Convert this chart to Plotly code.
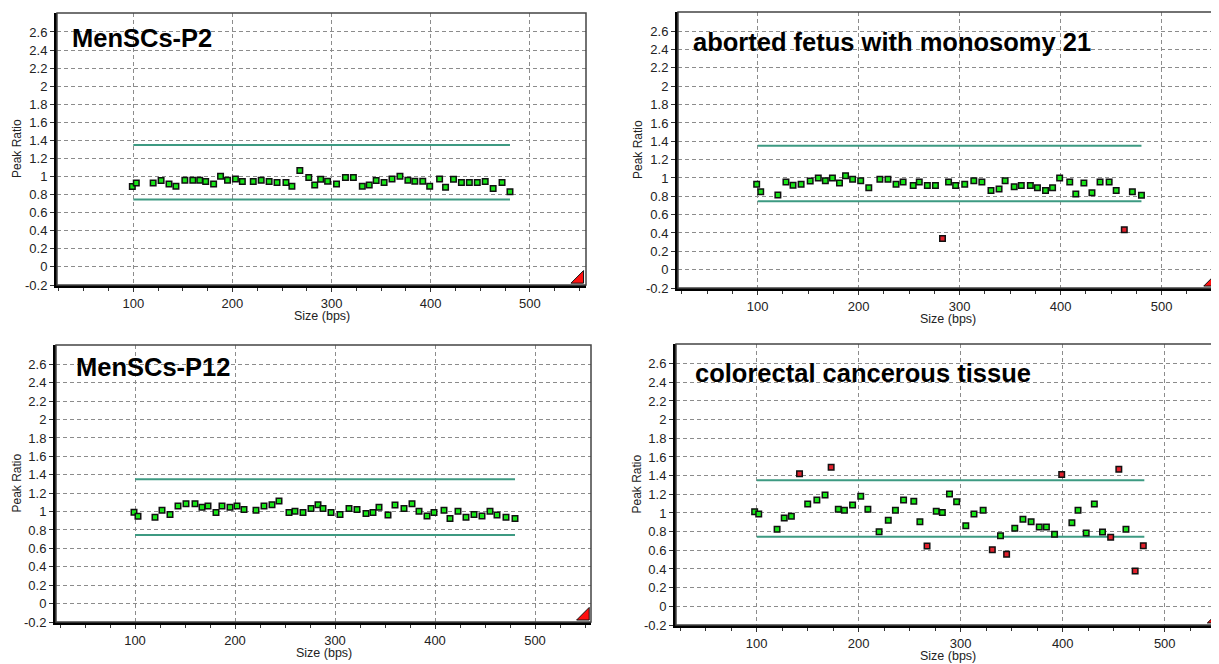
import plotly.graph_objects as go

# ---------------- data ----------------
x_tick_vals = [100, 200, 300, 400, 500]
x_tick_text = ["100", "200", "300", "400", "500"]
y_tick_vals = [-0.2, 0, 0.2, 0.4, 0.6, 0.8, 1.0, 1.2, 1.4, 1.6, 1.8, 2.0, 2.2, 2.4, 2.6]
y_tick_text = ["-0.2", "0", "0.2", "0.4", "0.6", "0.8", "1", "1.2", "1.4", "1.6", "1.8", "2", "2.2", "2.4", "2.6"]

upper_limit = 1.35
lower_limit = 0.745
limit_x = [100, 480]

panel_titles = ["MenSCs-P2", "aborted fetus with monosomy 21", "MenSCs-P12", "colorectal cancerous tissue"]
x_title = "Size (bps)"
y_title = "Peak Ratio"

sizes_p2 = [99, 103, 120, 128, 136, 143, 152, 160, 167, 173, 181, 188, 195, 203, 210, 221, 229, 237, 245,
            254, 260, 268, 277, 283, 289, 296, 305, 314, 322, 331, 338, 345, 353, 361, 369, 377, 384, 392,
            399, 409, 415, 423, 431, 439, 447, 455, 463, 472, 480]
ratios_p2 = [0.89, 0.93, 0.93, 0.956, 0.919, 0.893, 0.959, 0.959, 0.959, 0.944, 0.919, 1.004, 0.959, 0.974,
             0.944, 0.944, 0.959, 0.944, 0.933, 0.933, 0.893, 1.067, 0.989, 0.907, 0.970, 0.948, 0.919,
             0.989, 0.989, 0.893, 0.907, 0.956, 0.933, 0.974, 1.004, 0.959, 0.948, 0.948, 0.893, 0.974,
             0.881, 0.970, 0.933, 0.933, 0.933, 0.944, 0.867, 0.933, 0.833]

sizes_m21 = [99, 103, 120, 128, 135, 143, 152, 160, 167, 174, 181, 187, 194, 202, 210, 221, 229, 237, 244,
             254, 260, 268, 276, 283, 289, 296, 305, 314, 322, 331, 339, 345, 354, 361, 370, 377, 385, 392,
             399, 409, 415, 423, 431, 439, 448, 455, 463, 471, 480]
ratios_m21 = [0.932, 0.85, 0.814, 0.957, 0.921, 0.932, 0.968, 1.0, 0.971, 1.0, 0.946, 1.025, 0.986, 0.971,
              0.893, 0.986, 0.986, 0.932, 0.957, 0.918, 0.957, 0.918, 0.918, 0.339, 0.957, 0.918, 0.932,
              0.971, 0.957, 0.864, 0.879, 0.971, 0.904, 0.918, 0.918, 0.893, 0.864, 0.893, 1.0, 0.957,
              0.825, 0.946, 0.839, 0.957, 0.957, 0.864, 0.436, 0.85, 0.811]

sizes_p12 = [99, 103, 120, 127, 135, 143, 151, 160, 167, 173, 181, 187, 195, 202, 209, 221, 229, 237, 244,
             254, 260, 268, 276, 283, 288, 296, 305, 314, 322, 331, 338, 344, 353, 360, 369, 377, 384, 392,
             399, 409, 415, 423, 431, 439, 447, 455, 462, 471, 480]
ratios_p12 = [0.993, 0.950, 0.939, 1.014, 0.968, 1.061, 1.086, 1.086, 1.047, 1.061, 0.989, 1.061, 1.047,
              1.061, 1.022, 1.014, 1.061, 1.075, 1.115, 0.989, 1.004, 0.989, 1.032, 1.075, 1.032, 0.989,
              0.968, 1.032, 1.022, 0.978, 0.989, 1.047, 0.964, 1.072, 1.032, 1.086, 1.004, 0.953, 0.989,
              1.014, 0.925, 1.004, 0.939, 0.968, 0.953, 1.004, 0.964, 0.939, 0.924]

sizes_crc = [98, 102, 120, 127, 134, 142, 150, 159, 167, 173, 180, 186, 194, 202, 209, 220, 229, 236, 244,
             254, 260, 267, 276, 282, 289, 296, 305, 313, 322, 331, 339, 345, 353, 361, 369, 377, 384, 392,
             399, 409, 415, 423, 431, 439, 447, 455, 462, 471, 479]
ratios_crc = [1.014, 0.989, 0.825, 0.946, 0.964, 1.421, 1.096, 1.139, 1.193, 1.489, 1.039, 1.029, 1.086,
              1.179, 1.039, 0.80, 0.921, 1.029, 1.139, 1.125, 0.907, 0.646, 1.018, 1.004, 1.204, 1.121,
              0.864, 0.989, 1.029, 0.607, 0.757, 0.557, 0.836, 0.932, 0.907, 0.85, 0.85, 0.771, 1.411,
              0.896, 1.029, 0.786, 1.096, 0.796, 0.74, 1.468, 0.825, 0.379, 0.65]

panel_sizes = [sizes_p2, sizes_m21, sizes_p12, sizes_crc]
panel_ratios = [ratios_p2, ratios_m21, ratios_p12, ratios_crc]

flag_x = [550]
flag_y = [-0.133]

# ---------------- layout geometry ----------------
PAGE_OFFSET = 8  # default body margin of the html page
W, H = 1219 - PAGE_OFFSET, 664 - PAGE_OFFSET
# (left, right, top, bottom) in window pixels
boxes = [(57, 586, 13, 285), (678, 1217, 12, 288), (56, 591, 345, 622), (676, 1219, 344, 625)]
x_ranges = [[23, 556.7], [21.1, 554.8], [21, 556], [20.9, 553.2]]
y_range = [-0.2, 2.81]
# title left offset (px from left border) and centre offset (px below top border)
title_off = [(13, 25), (13, 30), (18, 22), (17, 29)]

font_family = "Liberation Sans, Arial, sans-serif"
grid_color = "#8c8c8c"
limit_color = "#3d9a82"
green = "#19e619"
red = "#e3202c"

fig = go.Figure()
layout = dict(
    width=W, height=H, margin=dict(l=0, r=0, t=0, b=0, autoexpand=False),
    paper_bgcolor="white", plot_bgcolor="white", showlegend=False,
    font=dict(family=font_family, size=13, color="#222"),
)
annotations = []
shapes = []

for i in range(4):
    n = "" if i == 0 else str(i + 1)
    xa, ya = "x" + n, "y" + n
    l, r, t, b = [v - PAGE_OFFSET for v in boxes[i]]
    xs, ys = panel_sizes[i], panel_ratios[i]
    inside_x = [x for x, y in zip(xs, ys) if lower_limit <= y <= upper_limit]
    inside_y = [y for y in ys if lower_limit <= y <= upper_limit]
    out_x = [x for x, y in zip(xs, ys) if not (lower_limit <= y <= upper_limit)]
    out_y = [y for y in ys if not (lower_limit <= y <= upper_limit)]

    for lim in (upper_limit, lower_limit):
        fig.add_trace(go.Scatter(x=limit_x, y=[lim, lim], mode="lines", xaxis=xa, yaxis=ya,
                                 line=dict(color=limit_color, width=2), hoverinfo="skip"))
    fig.add_trace(go.Scatter(x=inside_x, y=inside_y, mode="markers", xaxis=xa, yaxis=ya,
                             marker=dict(symbol="square", size=5.5, color=green,
                                         line=dict(color="#111", width=1.5))))
    fig.add_trace(go.Scatter(x=out_x, y=out_y, mode="markers", xaxis=xa, yaxis=ya,
                             marker=dict(symbol="square", size=5.5, color=red,
                                         line=dict(color="#111", width=1.5))))
    fig.add_trace(go.Scatter(x=flag_x, y=flag_y, mode="markers", xaxis=xa, yaxis=ya,
                             marker=dict(symbol="triangle-se", size=14, color="#ff1010",
                                         line=dict(color="#111", width=1)), hoverinfo="skip"))

    layout["xaxis" + n] = dict(
        domain=[l / W, min(r / W, 1.0)], range=x_ranges[i], anchor=ya, automargin=False,
        tickmode="array", tickvals=x_tick_vals, ticktext=x_tick_text,
        ticks="outside", ticklen=4, tickwidth=1, tickcolor="#333",
        showgrid=True, gridcolor=grid_color, gridwidth=1, griddash="4px,3px",
        showline=True, linecolor="black", linewidth=3, zeroline=False,
        minor=dict(tickmode="linear", tick0=0, dtick=25, ticks="outside", ticklen=3,
                   tickcolor="#333", showgrid=False),
        tickfont=dict(size=13, color="#222"),
    )
    layout["yaxis" + n] = dict(
        domain=[1 - b / H, 1 - t / H], range=y_range, anchor=xa, automargin=False,
        tickmode="array", tickvals=y_tick_vals, ticktext=y_tick_text,
        ticks="outside", ticklen=4, tickwidth=1, tickcolor="#333",
        showgrid=True, gridcolor=grid_color, gridwidth=1, griddash="4px,3px",
        showline=True, linecolor="black", linewidth=3, zeroline=False,
        tickfont=dict(size=13, color="#222"),
    )
    shapes.append(dict(type="rect", xref=xa + " domain", yref=ya + " domain", x0=0, x1=1, y0=0, y1=1,
                       line=dict(color="#444", width=1.5), layer="above"))
    tx, ty = title_off[i]
    annotations.append(dict(text="<b>" + panel_titles[i] + "</b>", xref=xa + " domain", yref=ya + " domain",
                            x=0, y=1, xshift=tx, yshift=-ty, xanchor="left", yanchor="middle",
                            showarrow=False, font=dict(size=25.5, color="black", family=font_family)))
    annotations.append(dict(text=x_title, xref=xa + " domain", yref=ya + " domain",
                            x=0.5, y=0, yshift=-31, xanchor="center", yanchor="middle",
                            showarrow=False, font=dict(size=12.5, color="#222", family=font_family)))
    annotations.append(dict(text=y_title, xref=xa + " domain", yref=ya + " domain", textangle=-90,
                            x=0, y=0.5, xshift=-40, xanchor="center", yanchor="middle",
                            showarrow=False, font=dict(size=12, color="#222", family=font_family)))

layout["annotations"] = annotations
layout["shapes"] = shapes
fig.update_layout(**layout)
fig.write_html("out.html")
